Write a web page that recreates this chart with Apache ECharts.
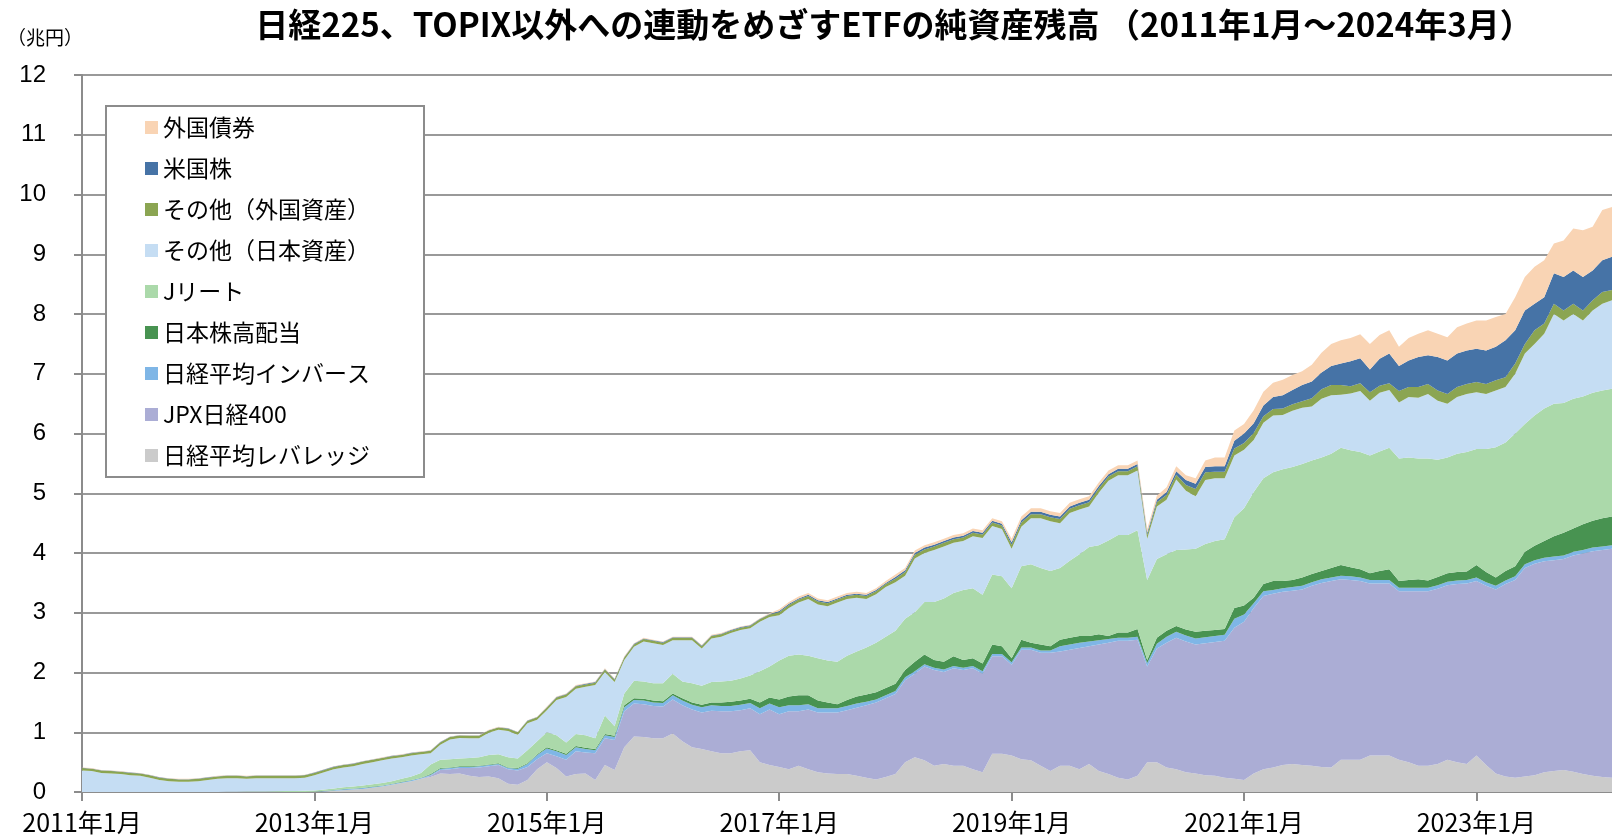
<!DOCTYPE html>
<html>
<head>
<meta charset="utf-8">
<script src="https://cdn.jsdelivr.net/npm/echarts@6/dist/echarts.min.js"></script>
<style>
  html, body { margin: 0; padding: 0; background: #fff; }
  #chart { width: 1612px; height: 838px; }
</style>
</head>
<body>
<div id="chart"></div>
<script>
// monthly points, 2011-01 .. 2024-03 (159 months), unit: 兆円
const categories = []
for (let y = 2011; y <= 2024; y++) {
  for (let m = 1; m <= 12; m++) {
    if (y === 2024 && m > 3) break
    categories.push(y + '年' + m + '月')
  }
}

// bottom of the stack first
const leverage = [
  0,0,0,0,0,0,0,0,0,0,0,0,0,0,0,0,0,0,0,0,0,0,0,0,0,
  .01,.02,.03,.04,.05,.07,.09,.12,.15,.18,.22,
  .25,.31,.30,.31,.27,.25,.26,.23,.14,.12,.20,.38,
  .50,.40,.26,.30,.31,.20,.45,.37,.75,.93,.92,.90,
  .90,.98,.85,.75,.72,.68,.65,.65,.68,.70,.50,.45,
  .42,.38,.44,.38,.33,.31,.30,.30,.27,.24,.21,.25,
  .30,.50,.58,.53,.44,.47,.44,.44,.38,.33,.64,.64,
  .61,.55,.53,.44,.35,.44,.44,.38,.47,.35,.30,.24,
  .21,.27,.50,.50,.41,.38,.33,.31,.28,.27,.24,.22,
  .20,.31,.38,.41,.45,.47,.45,.44,.42,.41,.54,.54,
  .54,.61,.61,.61,.54,.50,.44,.44,.47,.54,.50,.47,
  .61,.45,.31,.26,.24,.26,.28,.33,.35,.37,.34,.30,
  .27,.25,.24
]
const jpx400 = [
  0,0,0,0,0,0,0,0,0,0,0,0,0,0,0,0,0,0,0,0,0,0,0,0,
  0,0,0,0,0,0,0,0,0,0,0,0,
  .02,.06,.08,.09,.13,.16,.17,.22,.24,.24,.22,.17,
  .15,.20,.28,.38,.35,.45,.45,.50,.60,.55,.55,.54,
  .53,.57,.60,.63,.61,.68,.70,.70,.69,.70,.80,.93,
  .88,.97,.91,1.00,1.00,1.02,1.03,1.07,1.14,1.21,1.29,1.32,
  1.34,1.37,1.40,1.57,1.60,1.54,1.63,1.60,1.69,1.65,1.63,1.63,
  1.52,1.83,1.85,1.89,1.98,1.91,1.94,2.03,1.97,2.12,2.20,2.29,
  2.32,2.28,1.60,1.90,2.09,2.20,2.19,2.16,2.21,2.24,2.29,2.53,
  2.65,2.77,2.90,2.91,2.90,2.90,2.94,3.01,3.08,3.12,3.02,3.01,
  2.99,2.88,2.88,2.88,2.82,2.86,2.92,2.92,2.93,2.92,2.98,3.02,
  2.92,3.00,3.08,3.22,3.31,3.49,3.54,3.53,3.53,3.53,3.62,3.69,
  3.76,3.80,3.83
]
const inverse = [
  0,0,0,0,0,0,0,0,0,0,0,0,0,0,0,0,0,0,0,0,0,0,0,0,
  .005,.005,.01,.015,.015,.015,.015,.015,.015,.015,.015,.015,
  .02,.02,.02,.02,.02,.02,.02,.02,.02,.03,.05,.07,
  .08,.08,.08,.07,.06,.05,.05,.05,.07,.06,.06,.06,
  .06,.07,.08,.08,.09,.09,.09,.09,.09,.09,.10,.10,
  .12,.10,.10,.09,.07,.07,.07,.07,.07,.06,.05,.05,
  .05,.05,.04,.04,.04,.04,.04,.04,.04,.04,.04,.04,
  .04,.04,.04,.04,.04,.09,.09,.09,.08,.07,.06,.05,
  .05,.05,.06,.08,.10,.10,.10,.10,.10,.10,.10,.15,
  .12,.08,.08,.06,.06,.06,.06,.06,.06,.06,.06,.06,
  .06,.06,.06,.06,.06,.06,.06,.06,.06,.06,.06,.06,
  .06,.06,.06,.06,.06,.06,.06,.06,.06,.06,.06,.06,
  .06,.06,.06
]
const highDividend = [
  0,0,0,0,0,0,0,0,0,0,0,0,0,0,0,0,0,0,0,0,0,0,0,0,0,
  .005,.005,.005,.005,.005,.005,.005,.005,.005,.005,.005,
  .01,.01,.01,.01,.01,.01,.01,.01,.01,.01,.01,.01,
  .02,.02,.02,.02,.02,.02,.02,.02,.03,.03,.03,.03,
  .03,.03,.04,.04,.04,.05,.06,.07,.07,.07,.10,.10,
  .13,.15,.17,.15,.13,.10,.07,.10,.12,.12,.12,.12,
  .12,.12,.16,.16,.13,.13,.16,.13,.13,.13,.16,.13,
  .07,.13,.08,.10,.07,.11,.11,.11,.09,.10,.05,.09,
  .09,.13,.05,.10,.10,.10,.10,.11,.11,.10,.10,.18,
  .15,.09,.12,.15,.12,.12,.14,.14,.14,.16,.18,.15,
  .14,.11,.15,.18,.11,.13,.14,.12,.14,.14,.14,.14,
  .21,.17,.14,.16,.17,.21,.24,.28,.34,.38,.39,.43,
  .45,.47,.48
]
const jreit = [
  0,0,0,0,0,0,0,0,0,0,0,0,0,0,0,
  .005,.005,.008,.01,.01,.012,.015,.017,.02,
  .02,.02,.025,.03,.03,.04,.04,.04,.04,.05,.06,.08,
  .16,.14,.14,.13,.14,.14,.16,.15,.17,.16,.22,.22,
  .25,.25,.19,.20,.21,.18,.31,.16,.20,.29,.29,.29,
  .30,.33,.28,.32,.32,.34,.35,.35,.37,.39,.52,.52,
  .65,.68,.68,.66,.71,.70,.71,.74,.75,.79,.83,.86,
  .89,.86,.83,.88,.97,1.06,1.06,1.17,1.17,1.15,1.17,1.17,
  1.17,1.23,1.31,1.28,1.26,1.20,1.29,1.37,1.49,1.49,1.60,1.63,
  1.63,1.65,1.34,1.32,1.28,1.27,1.34,1.39,1.45,1.49,1.50,1.52,
  1.63,1.77,1.77,1.82,1.87,1.89,1.90,1.90,1.90,1.91,1.96,1.96,
  1.96,1.97,2.00,2.03,2.05,2.05,2.02,2.04,1.96,1.94,1.98,2.00,
  1.94,2.06,2.18,2.15,2.22,2.14,2.18,2.22,2.22,2.17,2.17,2.14,
  2.14,2.14,2.14
]
const otherJapan = [
  .36,.35,.32,.31,.30,.28,.27,.24,.20,.18,.17,.17,.18,.20,.22,
  .225,.225,.212,.22,.22,.218,.215,.213,.22,
  .255,.29,.32,.33,.34,.36,.37,.38,.38,.36,.35,.31,
  .19,.25,.33,.345,.33,.32,.37,.41,.44,.40,.45,.36,
  .37,.59,.76,.76,.81,.89,.73,.74,.56,.57,.67,.67,
  .64,.56,.69,.72,.62,.73,.75,.80,.81,.79,.83,.83,
  .76,.80,.87,.95,.90,.91,.99,.95,.90,.81,.81,.83,
  .81,.72,.90,.82,.87,.87,.84,.82,.87,.95,.81,.79,
  .66,.66,.77,.83,.83,.75,.80,.75,.68,.88,1.00,1.00,
  1.00,1.00,.69,.88,.91,1.18,.98,.88,1.07,1.05,1.02,1.03,
  .98,.87,.93,.95,.91,.94,.94,.90,.98,.98,.89,.95,
  1.02,.92,.98,.97,.94,1.01,1.02,1.08,.99,.90,.95,.97,
  .95,.92,.95,.93,1.00,1.18,1.20,1.25,1.50,1.38,1.42,1.27,
  1.38,1.45,1.48
]
const otherForeign = [
  .04,.04,.04,.04,.04,.04,.04,.04,.04,.04,.04,.04,
  .04,.04,.04,.04,.04,.04,.04,.04,.04,.04,.04,.04,
  .04,.04,.04,.04,.04,.04,.04,.04,.04,.04,.04,.04,
  .04,.04,.04,.04,.04,.04,.04,.04,.04,.04,.04,.04,
  .04,.04,.04,.04,.04,.04,.04,.04,.04,.04,.04,.04,
  .04,.04,.04,.04,.04,.04,.04,.04,.04,.04,.04,.04,
  .05,.05,.05,.05,.05,.05,.05,.05,.05,.05,.05,.05,
  .06,.06,.06,.06,.06,.06,.06,.06,.06,.06,.06,.06,
  .07,.07,.07,.07,.07,.07,.07,.07,.07,.07,.07,.07,
  .07,.07,.06,.07,.08,.08,.10,.12,.13,.11,.11,.12,
  .11,.12,.11,.11,.11,.11,.11,.14,.16,.17,.16,.12,
  .13,.14,.12,.11,.19,.17,.18,.17,.17,.16,.17,.17,
  .17,.17,.17,.16,.17,.16,.23,.17,.17,.17,.17,.17,
  .17,.20,.17
]
const usStocks = [
  .005,.005,.005,.005,.005,.005,.005,.005,.005,.005,.005,.005,
  .005,.005,.005,.005,.005,.005,.005,.005,.005,.005,.005,.005,
  .005,.005,.005,.005,.005,.005,.005,.005,.005,.005,.005,.005,
  .005,.005,.005,.005,.005,.005,.005,.005,.005,.005,.005,.005,
  .01,.01,.01,.01,.01,.01,.01,.01,.01,.01,.01,.01,
  .01,.01,.01,.01,.01,.01,.01,.01,.01,.01,.01,.01,
  .02,.02,.02,.02,.02,.02,.02,.02,.02,.02,.02,.02,
  .03,.03,.03,.03,.03,.03,.03,.03,.03,.03,.03,.03,
  .04,.04,.04,.04,.04,.04,.04,.04,.04,.04,.04,.04,
  .04,.04,.04,.04,.05,.06,.08,.09,.09,.09,.09,.13,
  .16,.16,.18,.20,.22,.24,.27,.28,.28,.32,.36,.42,
  .42,.38,.45,.50,.42,.44,.50,.48,.56,.56,.56,.56,
  .56,.56,.56,.62,.56,.56,.44,.44,.51,.56,.56,.56,
  .50,.53,.56
]
const foreignBonds = [
  .005,.005,.005,.005,.005,.005,.005,.005,.005,.005,.005,.005,
  .005,.005,.005,.005,.005,.005,.005,.005,.005,.005,.005,.005,
  .005,.005,.005,.005,.005,.005,.005,.005,.005,.005,.005,.005,
  .005,.005,.005,.005,.005,.005,.005,.005,.005,.005,.005,.005,
  .01,.01,.01,.01,.01,.01,.01,.01,.01,.01,.01,.01,
  .01,.01,.01,.01,.01,.01,.01,.01,.01,.01,.01,.01,
  .03,.03,.03,.03,.03,.03,.03,.03,.03,.03,.03,.03,
  .04,.04,.04,.04,.04,.04,.04,.04,.04,.04,.04,.04,
  .06,.06,.06,.06,.06,.06,.06,.06,.06,.06,.06,.06,
  .06,.06,.06,.07,.08,.08,.08,.09,.11,.15,.15,.17,
  .16,.22,.23,.24,.26,.25,.23,.28,.33,.37,.39,.39,
  .40,.43,.40,.39,.32,.38,.39,.42,.39,.39,.44,.45,
  .47,.50,.50,.44,.55,.56,.62,.62,.50,.61,.70,.78,
  .73,.84,.83
]

const yTicks = [0, 12, 1]  // min, max, interval

const layers = [
  { name: '日経平均レバレッジ', data: leverage, color: '#cbcbcb' },
  { name: 'JPX日経400', data: jpx400, color: '#abadd5' },
  { name: '日経平均インバース', data: inverse, color: '#7fb6e6' },
  { name: '日本株高配当', data: highDividend, color: '#489351' },
  { name: 'Jリート', data: jreit, color: '#abd9aa' },
  { name: 'その他（日本資産）', data: otherJapan, color: '#c5ddf3' },
  { name: 'その他（外国資産）', data: otherForeign, color: '#8ba552' },
  { name: '米国株', data: usStocks, color: '#4673a6' },
  { name: '外国債券', data: foreignBonds, color: '#f9d4b4' }
]

const font = '"Noto Sans CJK JP", "Noto Sans", sans-serif'
const chart = echarts.init(document.getElementById('chart'))

chart.setOption({
  animation: false,
  color: layers.map(l => l.color),
  title: [{
    text: '日経225、TOPIX以外への連動をめざすETFの純資産残高 （2011年1月～2024年3月）',
    left: 889,
    textAlign: 'center',
    top: 3,
    textStyle: { fontFamily: font, fontSize: 33, fontWeight: 'bold', color: '#000' }
  }, {
    text: '（兆円）',
    left: 2,
    top: 23,
    textStyle: { fontFamily: font, fontSize: 19, fontWeight: 'normal', color: '#000' }
  }],
  legend: {
    orient: 'vertical',
    left: 106,
    top: 106,
    data: layers.map(l => l.name).reverse(),
    itemWidth: 13,
    itemHeight: 13,
    itemGap: 18,
    icon: 'rect',
    padding: [10, 54, 10, 39],
    backgroundColor: '#fff',
    borderColor: '#8c8c8c',
    borderWidth: 2,
    borderRadius: 0,
    textStyle: { fontFamily: font, fontSize: 23, lineHeight: 23, color: '#000' }
  },
  grid: { left: 82, right: 0, top: 75, bottom: 46 },
  xAxis: {
    type: 'category',
    boundaryGap: false,
    data: categories,
    axisLine: { lineStyle: { color: '#8c8c8c', width: 2 } },
    axisTick: { interval: i => i % 24 === 0, length: 9, lineStyle: { color: '#8c8c8c', width: 2 } },
    axisLabel: {
      interval: i => i % 24 === 0,
      margin: 18,
      fontFamily: font,
      fontSize: 25,
      color: '#000'
    },
    splitLine: { show: false }
  },
  yAxis: {
    type: 'value',
    min: yTicks[0],
    max: yTicks[1],
    interval: yTicks[2],
    axisLine: { show: true, lineStyle: { color: '#8c8c8c', width: 2 } },
    axisTick: { show: true, length: 8, lineStyle: { color: '#8c8c8c', width: 2 } },
    axisLabel: { margin: 36, fontFamily: '"Liberation Sans", Arial, sans-serif', fontSize: 24, color: '#000' },
    splitLine: { lineStyle: { color: '#999', width: 2 } }
  },
  series: layers.map(l => ({
    name: l.name,
    type: 'line',
    stack: 'total',
    data: l.data,
    symbol: 'none',
    lineStyle: { width: 0 },
    areaStyle: { color: l.color, opacity: 1 },
    itemStyle: { color: l.color }
  }))
})
</script>
</body>
</html>
